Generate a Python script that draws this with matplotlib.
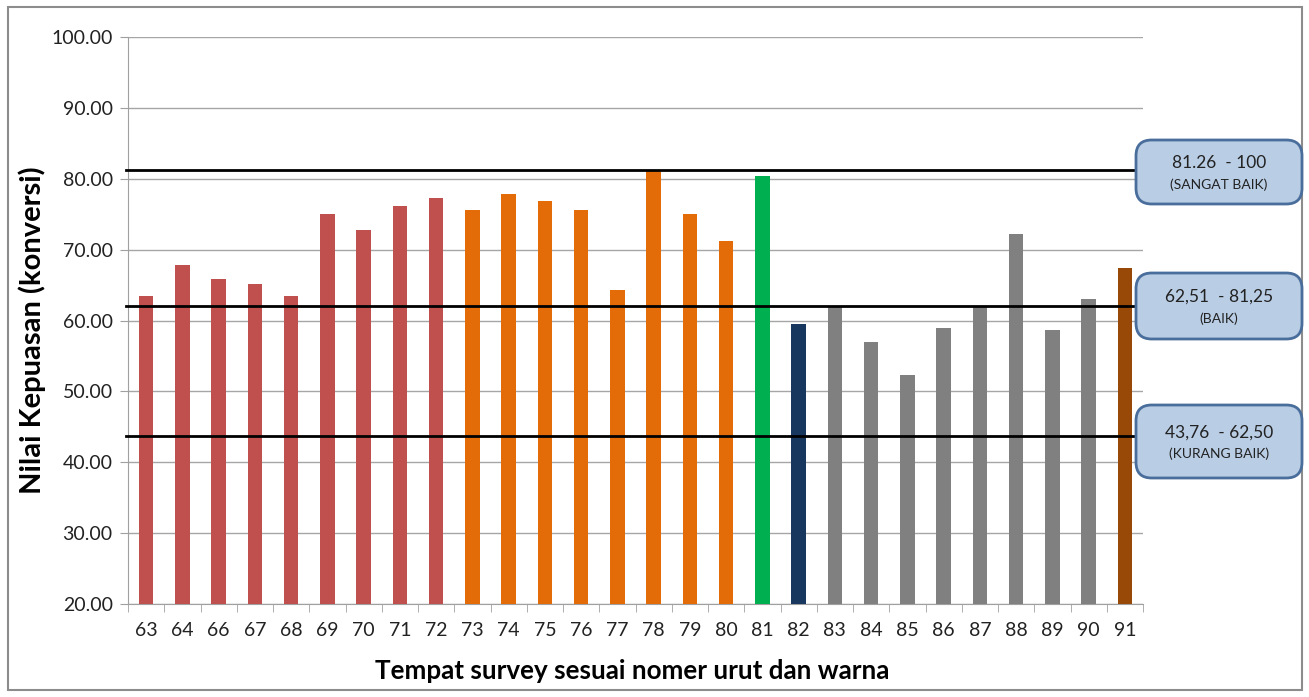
import matplotlib.pyplot as plt
from matplotlib.patches import FancyBboxPatch, Rectangle

plt.rcParams['font.family'] = ['Lato', 'DejaVu Sans']

# survey sites and their satisfaction scores
sites = ['63', '64', '66', '67', '68', '69', '70', '71', '72', '73', '74', '75', '76', '77',
         '78', '79', '80', '81', '82', '83', '84', '85', '86', '87', '88', '89', '90', '91']
scores = [63.46, 67.83, 65.81, 65.10, 63.46, 75.03, 72.81, 76.11, 77.24, 75.55, 77.80, 76.86,
          75.55, 64.30, 81.20, 74.98, 71.17, 80.34, 59.55, 61.86, 56.97, 52.36, 58.99, 61.95,
          72.20, 58.61, 63.03, 67.45]
groups = ['red'] * 9 + ['orange'] * 8 + ['green'] + ['navy'] + ['gray'] * 8 + ['brown']
group_colors = {'red': '#C0504D', 'orange': '#E36C09', 'green': '#00B050',
                'navy': '#17375E', 'gray': '#808080', 'brown': '#984807'}

# category thresholds and their labels
thresholds = [81.25, 62.0, 43.75]
range_labels = ['81.26  - 100', '62,51  - 81,25', '43,76  - 62,50']
range_names = ['(SANGAT BAIK)', '(BAIK)', '(KURANG BAIK)']

W, H = 1309, 697
fig = plt.figure(figsize=(W / 100, H / 100), dpi=100)

# chart area border
fig.patches.append(Rectangle((8 / W, 1 - 690 / H), 1294 / W, 683 / H, transform=fig.transFigure,
                             fill=False, edgecolor='#8C8C8C', linewidth=1.5))

ax = fig.add_axes([128 / W, (H - 604) / H, 1015 / W, 567 / H])
x = list(range(len(sites)))
ax.bar(x, scores, width=0.4, color=[group_colors[g] for g in groups], zorder=3)

ax.set_xlim(-0.5, len(sites) - 0.5)
ax.set_ylim(20, 100)
ax.set_yticks([20, 30, 40, 50, 60, 70, 80, 90, 100])
ax.set_yticklabels(['%.2f' % v for v in ax.get_yticks()])
ax.set_xticks(x)
ax.set_xticklabels(sites)
ax.set_xticks([i - 0.5 for i in range(len(sites) + 1)], minor=True)
ax.tick_params(axis='x', which='major', length=0, pad=13, labelsize=14, colors='#222222')
ax.tick_params(axis='x', which='minor', length=6, color='#A0A0A0')
ax.tick_params(axis='y', length=6, color='#A0A0A0', labelsize=14, labelcolor='#222222', pad=5)
ax.grid(axis='y', color='#A6A6A6', linewidth=1, zorder=0)
for s in ['top', 'right']:
    ax.spines[s].set_visible(False)
for s in ['left', 'bottom']:
    ax.spines[s].set_color('#A0A0A0')

ax.set_ylabel('Nilai Kepuasan (konversi)', fontsize=21, fontweight='bold')
ax.yaxis.set_label_coords((46 - 128) / 1015, (604 - 330) / 567)
ax.set_xlabel('Tempat survey sesuai nomer urut dan warna', fontsize=18.7, fontweight='bold')
ax.xaxis.set_label_coords((632 - 128) / 1015, -(659 - 604) / 567)

# threshold lines
for t in thresholds:
    ax.axhline(t, xmin=-0.002, xmax=(1136 - 128) / 1015, color='black', linewidth=2,
               zorder=4, clip_on=False)

# range boxes on the right
boxes = [(140, 204), (273, 339), (405, 478)]
for (top, bot), lab, name in zip(boxes, range_labels, range_names):
    x0, x1 = 1136, 1302
    fig.patches.append(FancyBboxPatch((x0 / W, 1 - bot / H), (x1 - x0) / W, (bot - top) / H,
                                      boxstyle='round,pad=0,rounding_size=0.012',
                                      transform=fig.transFigure, facecolor='#B9CDE5',
                                      edgecolor='#4A6E9B', linewidth=2, mutation_aspect=W / H))
    cx = (x0 + x1) / 2 / W
    cy = (top + bot) / 2
    fig.text(cx, 1 - (cy - 9) / H, lab, ha='center', va='center', fontsize=12.5, color='#222222')
    fig.text(cx, 1 - (cy + 12.5) / H, name, ha='center', va='center', fontsize=10, color='#222222')

fig.savefig('out.png', dpi=100)
